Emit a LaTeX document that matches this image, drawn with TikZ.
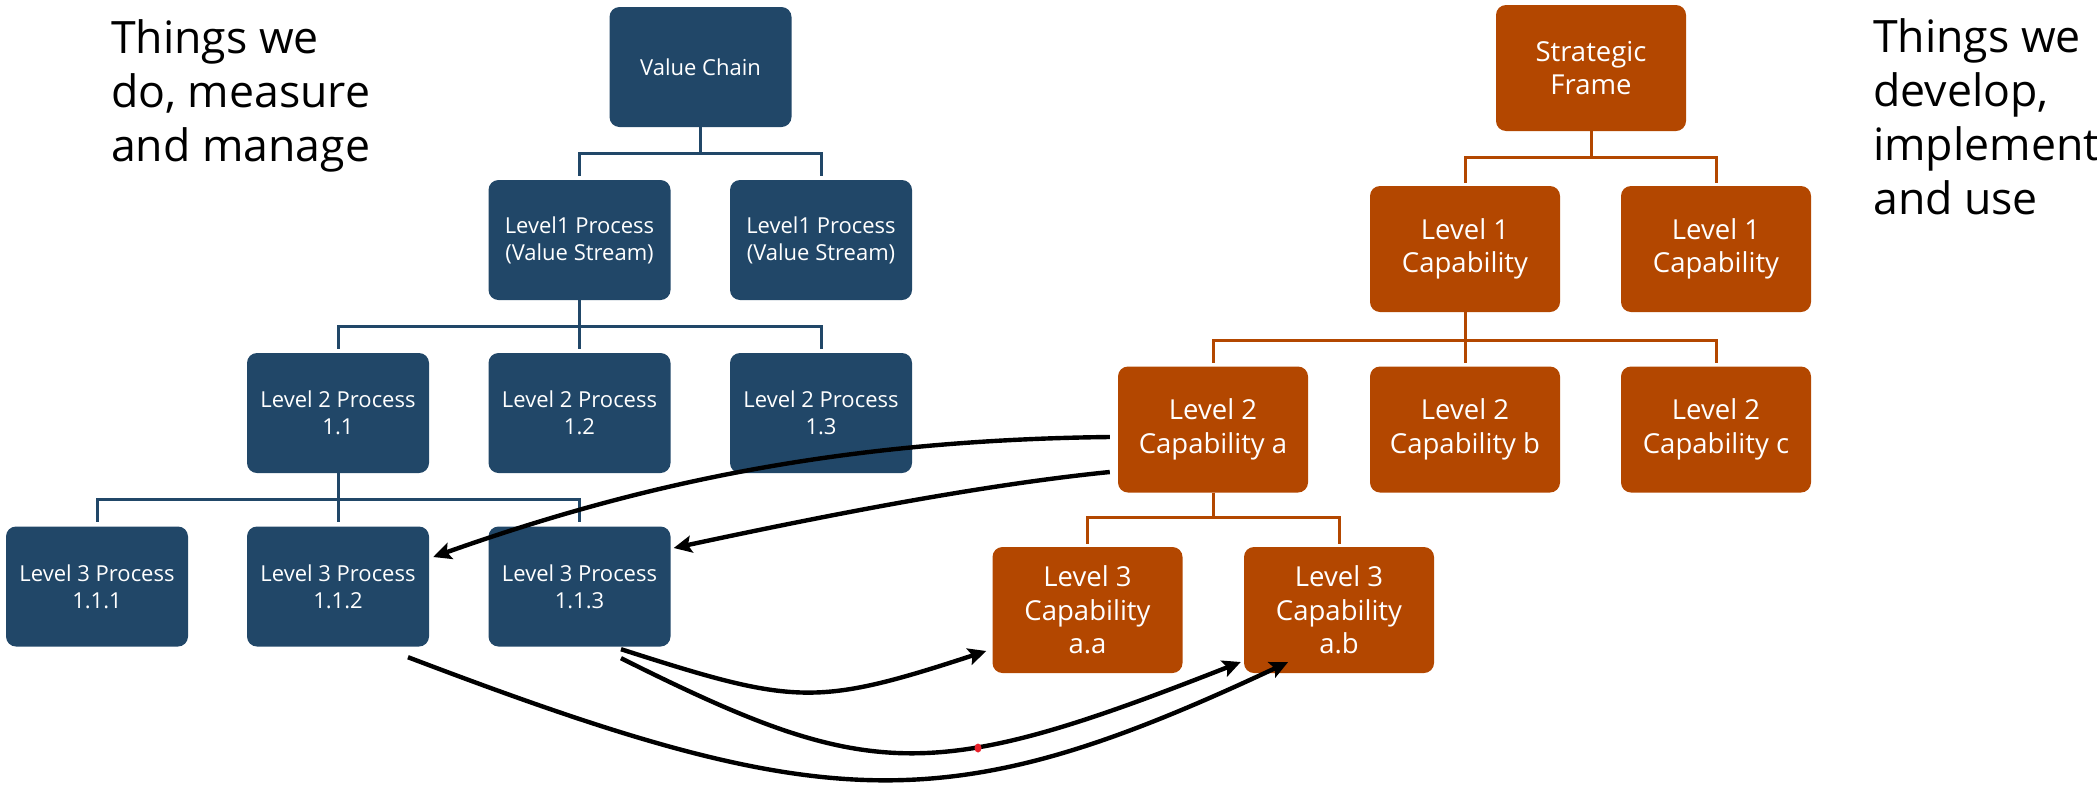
\documentclass[tikz,border=0pt]{standalone}
\usepackage{fontspec}
\setmainfont{Open Sans}
\usetikzlibrary{arrows.meta,calc}
\definecolor{navy}{HTML}{214768}
\definecolor{rust}{HTML}{B34700}
\definecolor{dotred}{HTML}{E8202A}
\begin{document}
\begin{tikzpicture}[x=1pt,y=-1pt,
  procbox/.style={fill=navy, rounded corners=10pt, minimum width=182pt, minimum height=120pt,
    inner sep=0pt, text=white, align=center, font=\fontsize{22}{27}\selectfont},
  capbox/.style={fill=rust, rounded corners=10pt, minimum width=190pt, minimum height=126pt,
    inner sep=0pt, text=white, align=center, font=\fontsize{27.5}{33.5}\selectfont},
  proclink/.style={draw=navy, line width=3pt},
  caplink/.style={draw=rust, line width=3pt},
  crosslink/.style={draw=black, line width=4.4pt, -{Stealth[length=18pt,width=17pt,inset=3.5pt]}},
  sidetext/.style={anchor=north west, inner sep=0pt, align=left, font=\fontsize{44.6}{54}\selectfont}
]
\useasboundingbox (0,0) rectangle (2097,785);

% side captions
\node[sidetext] (lefttext) at (111,19.2) {Things we\\do, measure\\and manage};
\node[sidetext] (righttext) at (1873,18.2) {Things we\\develop,\\implement\\and use};

% process hierarchy
\node[procbox] (vc)  at (700.5,67)  {Value Chain};
\node[procbox] (p1a) at (579.5,240) {Level1 Process\\(Value Stream)};
\node[procbox] (p1b) at (821,240)   {Level1 Process\\(Value Stream)};
\node[procbox] (p2a) at (338,413)   {Level 2 Process\\1.1};
\node[procbox] (p2b) at (579.5,413) {Level 2 Process\\1.2};
\node[procbox] (p2c) at (821,413)   {Level 2 Process\\1.3};
\node[procbox] (p3a) at (97,586.5)  {Level 3 Process\\1.1.1};
\node[procbox] (p3b) at (338,586.5) {Level 3 Process\\1.1.2};
\node[procbox] (p3c) at (579.5,586.5) {Level 3 Process\\1.1.3};

\draw[proclink] (vc.south) -- ++(0,26) coordinate (jv0);
\draw[proclink, shorten >=4pt] (jv0) -| (p1a.north);
\draw[proclink, shorten >=4pt] (jv0) -| (p1b.north);
\draw[proclink] (p1a.south) -- ++(0,26) coordinate (jv1);
\draw[proclink, shorten >=4pt] (jv1) -| (p2a.north);
\draw[proclink, shorten >=4pt] (jv1) -| (p2b.north);
\draw[proclink, shorten >=4pt] (jv1) -| (p2c.north);
\draw[proclink] (p2a.south) -- ++(0,26) coordinate (jv2);
\draw[proclink, shorten >=4pt] (jv2) -| (p3a.north);
\draw[proclink, shorten >=4pt] (jv2) -| (p3b.north);
\draw[proclink, shorten >=4pt] (jv2) -| (p3c.north);

% capability hierarchy
\node[capbox] (sf)  at (1591,68)    {Strategic\\Frame};
\node[capbox] (c1a) at (1465,249)   {Level 1\\Capability};
\node[capbox] (c1b) at (1716,249)   {Level 1\\Capability};
\node[capbox] (c2a) at (1213,429.5) {Level 2\\Capability a};
\node[capbox] (c2b) at (1465,429.5) {Level 2\\Capability b};
\node[capbox] (c2c) at (1716,429.5) {Level 2\\Capability c};
\node[capbox] (c3a) at (1087.5,610) {Level 3\\Capability\\a.a};
\node[capbox] (c3b) at (1339,610)   {Level 3\\Capability\\a.b};

\draw[caplink] (sf.south) -- ++(0,26) coordinate (jc0);
\draw[caplink, shorten >=3pt] (jc0) -| (c1a.north);
\draw[caplink, shorten >=3pt] (jc0) -| (c1b.north);
\draw[caplink] (c1a.south) -- ++(0,28) coordinate (jc1);
\draw[caplink, shorten >=3pt] (jc1) -| (c2a.north);
\draw[caplink, shorten >=3pt] (jc1) -| (c2b.north);
\draw[caplink, shorten >=3pt] (jc1) -| (c2c.north);
\draw[caplink] (c2a.south) -- ++(0,25) coordinate (jc2);
\draw[caplink, shorten >=3pt] (jc2) -| (c3a.north);
\draw[caplink, shorten >=3pt] (jc2) -| (c3b.north);

% cross links between the two hierarchies
\draw[crosslink] ($(c2a.west)+(-8,7.5)$) .. controls (850,440) and (650,480) .. ($(p3b.east)+(4,-29.5)$);
\draw[crosslink] ($(c2a.west)+(-8,42.5)$) .. controls (980,485) and (823,516) .. ($(p3c.east)+(3,-38.5)$);
\draw[crosslink] ($(p3c.south)+(41.5,2.5)$) .. controls (795,705) and (815,707) .. ($(c3a.west)+(-6,41)$);
\draw[crosslink] ($(p3c.south)+(41.5,11.5)$) .. controls (871,783) and (930,784) .. ($(c3b.west)+(-3,52)$);
\draw[crosslink] ($(p3b.south)+(70,10.5)$) .. controls (828,817) and (947,822) .. ($(c3b.south)+(-51,-11)$);

% small red mark
\fill[dotred] (978,748) ellipse [x radius=3.5pt, y radius=4.5pt];
\end{tikzpicture}
\end{document}
